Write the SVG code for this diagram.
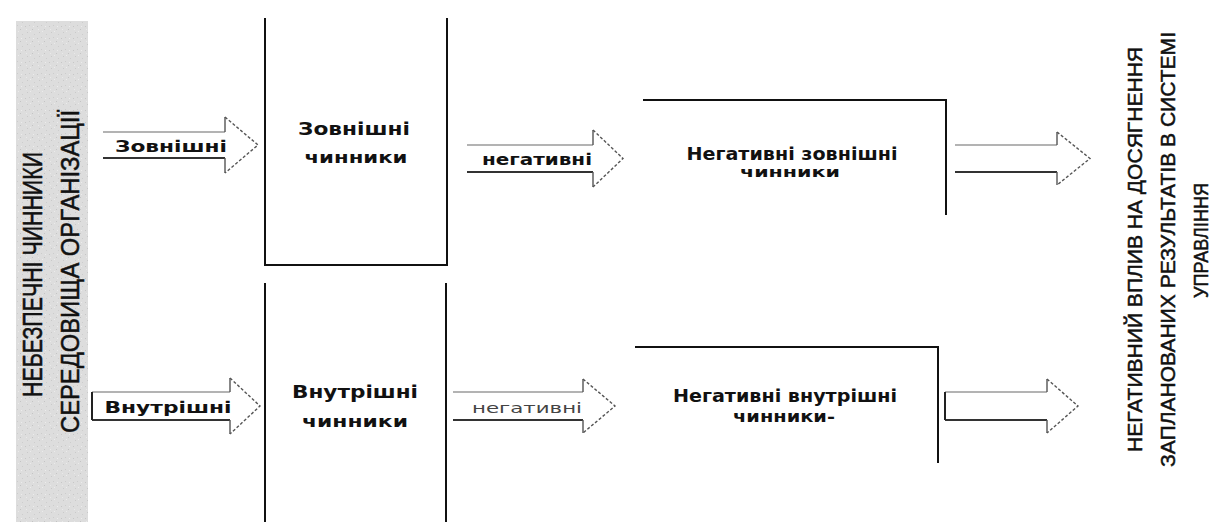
<svg xmlns="http://www.w3.org/2000/svg" width="1210" height="522" viewBox="0 0 1210 522">
  <defs>
    <pattern id="grain" width="12" height="12" patternUnits="userSpaceOnUse">
      <rect width="12" height="12" fill="#dddddd"/>
      <rect x="1" y="2" width="1" height="1" fill="#c6c6c6"/>
      <rect x="5" y="1" width="1" height="1" fill="#cccccc"/>
      <rect x="8" y="5" width="1" height="1" fill="#c4c4c4"/>
      <rect x="3" y="8" width="1" height="1" fill="#c9c9c9"/>
      <rect x="10" y="10" width="1" height="1" fill="#cdcdcd"/>
      <rect x="6" y="7" width="1" height="1" fill="#ebebeb"/>
      <rect x="2" y="5" width="1" height="1" fill="#e9e9e9"/>
      <rect x="9" y="2" width="1" height="1" fill="#ececec"/>
    </pattern>
  </defs>
  <style>
    .frame { fill: none; stroke: #111; stroke-width: 2; }
    .shaft-top { stroke: #9a9a9a; stroke-width: 1.6; fill: none; }
    .shaft-bot { stroke: #333; stroke-width: 2; fill: none; }
    .head-base { stroke: #555; stroke-width: 1.4; fill: none; }
    .head-tip { stroke: #555; stroke-width: 1.4; fill: none; stroke-dasharray: 3 2; }
    .end { stroke: #222; stroke-width: 2; fill: none; }
    .lbl { font-family: "DejaVu Sans", "Liberation Sans", sans-serif; font-weight: bold; fill: #111; }
    .side { font-family: "Liberation Sans", "DejaVu Sans", sans-serif; fill: #111; stroke: #111; stroke-width: 0.5; }
  </style>

  <!-- shaded side panel with its vertical caption -->
  <g id="source">
    <rect x="16" y="21" width="72" height="501" fill="url(#grain)"/>
    <text class="side" font-size="27" transform="translate(42 274.5) rotate(-90)" text-anchor="middle" textLength="245" lengthAdjust="spacingAndGlyphs">НЕБЕЗПЕЧНІ ЧИННИКИ</text>
    <text class="side" font-size="25" transform="translate(79 271.5) rotate(-90)" text-anchor="middle" textLength="323" lengthAdjust="spacingAndGlyphs">СЕРЕДОВИЩА ОРГАНІЗАЦІЇ</text>
  </g>

  <!-- external factors column -->
  <g id="external">
    <path class="frame" d="M265 18 V265 H447 V18"/>
    <text class="lbl" font-size="17" x="354" y="135" text-anchor="middle" textLength="112" lengthAdjust="spacingAndGlyphs">Зовнішні</text>
    <text class="lbl" font-size="15" x="356" y="163" text-anchor="middle" textLength="103" lengthAdjust="spacingAndGlyphs">чинники</text>
  </g>

  <!-- internal factors column -->
  <g id="internal">
    <path class="frame" d="M265 283 V522 M446 283 V522"/>
    <text class="lbl" font-size="17" x="355" y="398" text-anchor="middle" textLength="126" lengthAdjust="spacingAndGlyphs">Внутрішні</text>
    <text class="lbl" font-size="15" x="355" y="427" text-anchor="middle" textLength="106" lengthAdjust="spacingAndGlyphs">чинники</text>
  </g>

  <!-- negative external factors -->
  <g id="neg-external">
    <path class="frame" d="M643 100 H946 V215"/>
    <text class="lbl" font-size="17" x="792" y="160" text-anchor="middle" textLength="211" lengthAdjust="spacingAndGlyphs">Негативні зовнішні</text>
    <text class="lbl" font-size="14" x="790" y="177" text-anchor="middle" textLength="100" lengthAdjust="spacingAndGlyphs">чинники</text>
  </g>

  <!-- negative internal factors -->
  <g id="neg-internal">
    <path class="frame" d="M635 347 H938 V463"/>
    <text class="lbl" font-size="17" x="785" y="402" text-anchor="middle" textLength="224" lengthAdjust="spacingAndGlyphs">Негативні внутрішні</text>
    <text class="lbl" font-size="15" x="784" y="422" text-anchor="middle" textLength="102" lengthAdjust="spacingAndGlyphs">чинники-</text>
  </g>

  <!-- outcome caption -->
  <g id="outcome">
    <text class="side" font-size="21" transform="translate(1142 249.5) rotate(-90)" text-anchor="middle" textLength="405" lengthAdjust="spacingAndGlyphs">НЕГАТИВНИЙ ВПЛИВ НА ДОСЯГНЕННЯ</text>
    <text class="side" font-size="21" transform="translate(1175 249.5) rotate(-90)" text-anchor="middle" textLength="435" lengthAdjust="spacingAndGlyphs">ЗАПЛАНОВАНИХ РЕЗУЛЬТАТІВ В СИСТЕМІ</text>
    <text class="side" font-size="21" transform="translate(1208 240.5) rotate(-90)" text-anchor="middle" textLength="115" lengthAdjust="spacingAndGlyphs">УПРАВЛІННЯ</text>
  </g>

  <!-- block arrows -->
  <g id="connectors">
    <!-- source -> external -->
    <g>
      <path class="shaft-top" d="M103 132 H225"/>
      <path class="shaft-bot" d="M103 158 H225"/>
      <path class="head-base" d="M225 132 V117 M225 158 V173"/>
      <path class="head-tip" d="M225 117 L258 145 L225 173"/>
      <text class="lbl" font-size="16" x="171" y="152" text-anchor="middle" textLength="112" lengthAdjust="spacingAndGlyphs">Зовнішні</text>
    </g>
    <!-- source -> internal -->
    <g>
      <path class="shaft-top" d="M92 392 H230"/>
      <path class="shaft-bot" d="M92 420 H230"/>
      <path class="end" d="M92 392 V420"/>
      <path class="head-base" d="M230 392 V378 M230 420 V434"/>
      <path class="head-tip" d="M230 378 L260 406 L230 434"/>
      <text class="lbl" font-size="16" x="168" y="413" text-anchor="middle" textLength="127" lengthAdjust="spacingAndGlyphs">Внутрішні</text>
    </g>
    <!-- external -> negative external -->
    <g>
      <path class="shaft-top" d="M467 145 H593"/>
      <path class="shaft-bot" d="M467 172 H593"/>
      <path class="head-base" d="M593 145 V130 M593 172 V187"/>
      <path class="head-tip" d="M593 130 L623 158.5 L593 187"/>
      <text class="lbl" font-size="15" font-weight="normal" x="537" y="165" text-anchor="middle" textLength="110" lengthAdjust="spacingAndGlyphs">негативні</text>
    </g>
    <!-- internal -> negative internal -->
    <g>
      <path class="shaft-top" d="M453 392 H583"/>
      <path class="shaft-bot" d="M453 420 H583"/>
      <path class="head-base" d="M583 392 V379 M583 420 V433"/>
      <path class="head-tip" d="M583 379 L615 406 L583 433"/>
      <text class="lbl" font-size="14" x="527" y="413" text-anchor="middle" textLength="110" lengthAdjust="spacingAndGlyphs" style="font-weight:normal;fill:#444">негативні</text>
    </g>
    <!-- negative external -> outcome -->
    <g>
      <path class="shaft-top" d="M955 145 H1057"/>
      <path class="shaft-bot" d="M955 172 H1057"/>
      <path class="head-base" d="M1057 145 V132 M1057 172 V185"/>
      <path class="head-tip" d="M1057 132 L1090 158.5 L1057 185"/>
    </g>
    <!-- negative internal -> outcome -->
    <g>
      <path class="shaft-top" d="M945 392 H1047"/>
      <path class="shaft-bot" d="M945 420 H1047"/>
      <path class="end" d="M945 392 V420"/>
      <path class="head-base" d="M1047 392 V379 M1047 420 V433"/>
      <path class="head-tip" d="M1047 379 L1078 406 L1047 433"/>
    </g>
  </g>
</svg>
